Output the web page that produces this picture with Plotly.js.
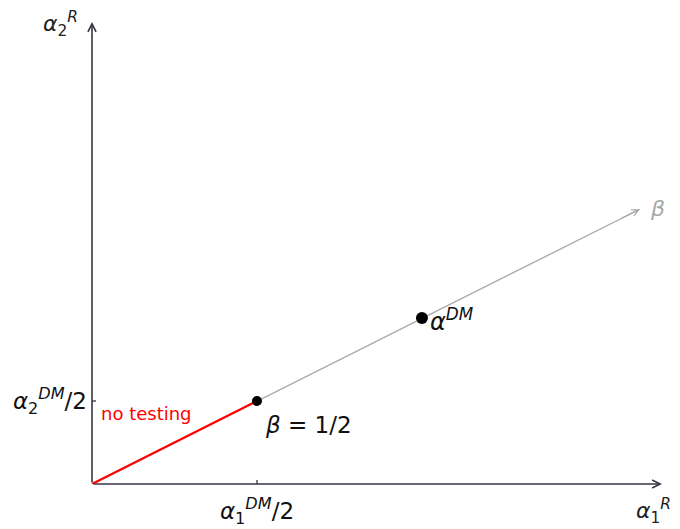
<!DOCTYPE html>
<html>
<head>
<meta charset="utf-8">
<script src="https://cdn.plot.ly/plotly-3.0.1.min.js"></script>
<style>html,body{margin:0;padding:0;background:#fff;}</style>
</head>
<body>
<div id="chart" style="width:680px;height:529px;"></div>
<script>
// Data (units: alpha^DM/2 = 1 on each axis)
const xAxisMax = 3.455;
const yAxisMax = 5.566;
const betaLineX = [0, 3.32];
const betaLineY = [0, 3.31];
const noTestingX = [0, 1];
const noTestingY = [0, 1];
const halfPointX = [1];
const halfPointY = [1];
const alphaDMX = [2];
const alphaDMY = [2];
const xTickVals = [1];
const xTickText = ['<i>α</i><sub>1</sub><sup><i>DM</i></sup>/2'];
const yTickVals = [1];
const yTickText = ['<i>α</i><sub>2</sub><sup><i>DM</i></sup>/2'];

const axisColor = '#3b3444';
const grey = '#a8a8a8';
const font = 'DejaVu Sans, sans-serif';

const traces = [
  {x: betaLineX, y: betaLineY, mode: 'lines', line: {color: grey, width: 1.3}, hoverinfo: 'skip', cliponaxis: false},
  {x: noTestingX, y: noTestingY, mode: 'lines', line: {color: '#ff0000', width: 2.2}, hoverinfo: 'skip', cliponaxis: false},
  {x: halfPointX, y: halfPointY, mode: 'markers', marker: {color: '#000', size: 10}, hoverinfo: 'skip', cliponaxis: false},
  {x: alphaDMX, y: alphaDMY, mode: 'markers', marker: {color: '#000', size: 12}, hoverinfo: 'skip', cliponaxis: false}
];

function arrow(x0, y0, x1, y1, color, width, head) {
  return {x: x1, y: y1, ax: x0, ay: y0, xref: 'x', yref: 'y', axref: 'x', ayref: 'y',
    showarrow: true, arrowhead: head, arrowsize: 1, arrowwidth: width, arrowcolor: color, text: '', standoff: 0, startstandoff: 0};
}

const annotations = [
  arrow(0, 0, xAxisMax, 0, axisColor, 1.6, 5),
  arrow(0, 0, 0, yAxisMax, axisColor, 1.6, 5),
  // arrowhead only at the end of the beta line (short segment along it, in pixels)
  {x: betaLineX[1], y: betaLineY[1], xref: 'x', yref: 'y', ax: -20, ay: 10, showarrow: true, arrowhead: 5,
   arrowsize: 1, arrowwidth: 1.3, arrowcolor: grey, text: '', standoff: 0, startstandoff: 0},
  {x: betaLineX[1], y: betaLineY[1], xref: 'x', yref: 'y', text: '<i>β</i>', showarrow: false,
   xanchor: 'left', yanchor: 'middle', xshift: 8, yshift: 1, font: {family: font, size: 22, color: grey}},
  {x: alphaDMX[0], y: alphaDMY[0], xref: 'x', yref: 'y', text: '<i>α</i><sup><i>DM</i></sup>', showarrow: false,
   xanchor: 'left', yanchor: 'middle', xshift: 6, yshift: -2, font: {family: font, size: 24, color: '#111'}},
  {x: halfPointX[0], y: halfPointY[0], xref: 'x', yref: 'y', text: '<i>β</i> = 1/2', showarrow: false,
   xanchor: 'left', yanchor: 'middle', xshift: 6, yshift: -24, font: {family: font, size: 23, color: '#111'}},
  {x: 0, y: noTestingY[1], xref: 'x', yref: 'y', text: 'no testing', showarrow: false,
   xanchor: 'left', yanchor: 'middle', xshift: 7, yshift: -12, font: {family: font, size: 18, color: '#ff0000'}},
  {x: 0, y: yAxisMax, xref: 'x', yref: 'y', text: '<i>α</i><sub>2</sub><sup><i>R</i></sup>', showarrow: false,
   xanchor: 'right', yanchor: 'middle', xshift: -12, yshift: -2, font: {family: font, size: 22, color: '#222'}},
  {x: xAxisMax, y: 0, xref: 'x', yref: 'y', text: '<i>α</i><sub>1</sub><sup><i>R</i></sup>', showarrow: false,
   xanchor: 'center', yanchor: 'middle', xshift: -9, yshift: -27, font: {family: font, size: 22, color: '#222'}}
];

const shapes = [
  {type: 'line', xref: 'x', yref: 'y', ysizemode: 'pixel', yanchor: 0, x0: xTickVals[0], x1: xTickVals[0], y0: -4, y1: 4, line: {color: axisColor, width: 1.3}},
  {type: 'line', xref: 'x', yref: 'y', xsizemode: 'pixel', xanchor: 0, y0: yTickVals[0], y1: yTickVals[0], x0: -4, x1: 4, line: {color: axisColor, width: 1.3}}
];

const layout = {
  width: 680, height: 529,
  margin: {l: 92, r: 18, t: 22, b: 45, pad: 0},
  paper_bgcolor: '#fff', plot_bgcolor: '#fff',
  showlegend: false,
  xaxis: {range: [0, xAxisMax], showgrid: false, zeroline: false, showline: false, ticks: '',
    tickvals: xTickVals, ticktext: xTickText, ticklabelstandoff: 11, tickfont: {family: font, size: 23, color: '#111'}, fixedrange: true},
  yaxis: {range: [0, yAxisMax], showgrid: false, zeroline: false, showline: false, ticks: '',
    tickvals: yTickVals, ticktext: yTickText, ticklabelstandoff: 4, tickfont: {family: font, size: 23, color: '#111'}, fixedrange: true},
  annotations: annotations,
  shapes: shapes
};

Plotly.newPlot('chart', traces, layout, {displayModeBar: false, staticPlot: true});
</script>
</body>
</html>
